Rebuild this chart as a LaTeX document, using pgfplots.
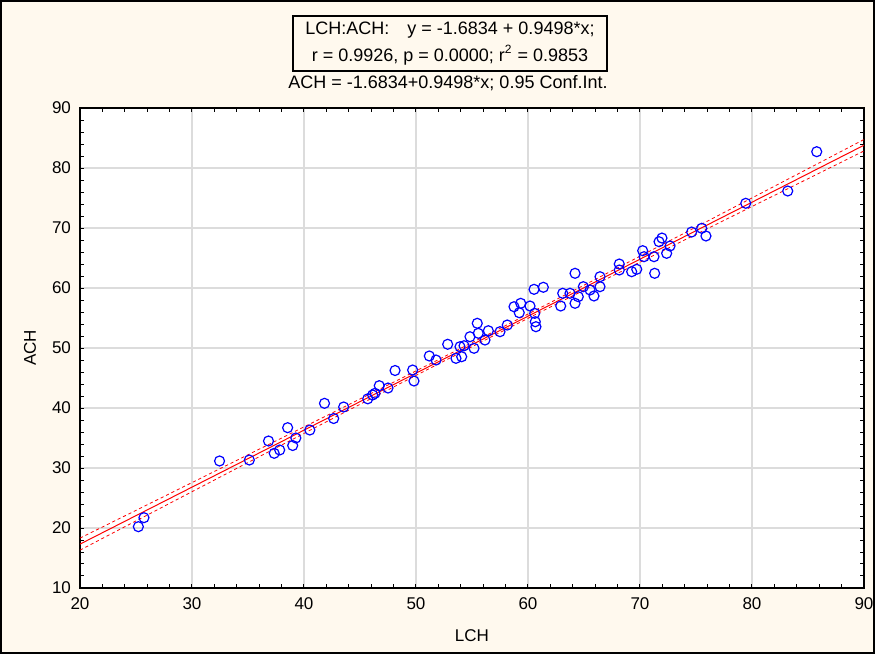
\documentclass[border=0pt]{standalone}
\usepackage{fontspec}
\setmainfont{Liberation Sans}
\usepackage{pgfplots}
\pgfplotsset{compat=1.18}
\definecolor{cream}{RGB}{255,249,238}
\definecolor{gridgray}{RGB}{220,220,220}
\definecolor{ptblue}{RGB}{0,0,255}
\definecolor{regred}{RGB}{255,0,0}
\begin{document}
\begin{tikzpicture}
\path[use as bounding box] (-40pt,-33pt) rectangle (397.5pt,294pt);
\draw[line width=1pt, fill=cream] (-39.3pt,-32.3pt) rectangle (396.8pt,293.3pt);
\begin{axis}[
  at={(0pt,0pt)}, anchor=south west,
  scale only axis, width=392pt, height=240pt,
  xmin=20, xmax=90, ymin=10, ymax=90,
  xtick={20,30,...,90}, ytick={10,20,...,90},
  minor x tick num=4, minor y tick num=4,
  tick align=inside, major tick length=2pt, minor tick length=2pt,
  tick style={black, line width=0.5pt},
  xmajorgrids, ymajorgrids,
  major grid style={gridgray, line width=0.8pt},
  axis line style={black, line width=0.6pt},
  axis background/.style={fill=white},
  /pgf/number format/assume math mode=true,
  tick label style={font=\fontsize{8.5}{10}\selectfont},
  xticklabel style={yshift=-1.5pt},
  yticklabel style={xshift=-1pt},
  label style={font=\fontsize{8.5}{10}\selectfont},
  xlabel={LCH}, ylabel={ACH},
  xlabel style={at={(axis description cs:0.5,0)}, anchor=center, yshift=-24pt},
  ylabel style={at={(axis description cs:0,0.5)}, anchor=center, yshift=25pt},
  clip=true,
]
% confidence band
\addplot[regred, line width=0.4pt, dash pattern=on 1.6pt off 1.4pt, smooth] coordinates {
(20,18.314) (25,22.941) (30,27.571) (35,32.206) (40,36.848) (45,41.503) (50,46.181) (56,51.845) (60,55.660) (65,60.467) (70,65.302) (75,70.154) (80,75.015) (85,79.881) (90,84.751)};
\addplot[regred, line width=0.4pt, dash pattern=on 1.6pt off 1.4pt, smooth] coordinates {
(20,16.310) (25,21.181) (30,26.049) (35,30.912) (40,35.768) (45,40.611) (50,45.431) (56,51.165) (60,54.948) (65,59.639) (70,64.302) (75,68.948) (80,73.585) (85,78.217) (90,82.845)};
% regression line
\addplot[regred, line width=0.5pt] coordinates {(20,17.312) (90,83.798)};
% data
\addplot[only marks, mark=o, mark size=2.5pt, mark options={ptblue, line width=0.6pt}] coordinates {
(25.21,20.22) (25.71,21.72) (32.46,31.17) (35.12,31.33) (36.83,34.50) (37.34,32.45)
(37.83,33.00) (38.54,36.72) (38.99,33.75) (39.27,35.00) (40.52,36.33) (41.83,40.78)
(42.65,38.25) (43.54,40.17) (45.69,41.53) (46.13,42.17) (46.34,42.45) (46.72,43.72)
(47.50,43.33) (48.13,46.25) (49.70,46.33) (49.82,44.50) (51.19,48.67) (51.79,48.00)
(52.83,50.62) (53.57,48.28) (53.93,50.22) (54.08,48.55) (54.29,50.38) (54.82,51.88)
(55.18,49.95) (55.47,54.12) (55.56,52.45) (56.16,51.33) (56.46,52.88) (57.50,52.72)
(58.15,53.83) (58.75,56.88) (59.35,57.45) (59.22,55.88) (60.18,57.00) (60.60,55.78)
(60.65,54.38) (60.71,53.55) (60.54,59.78) (61.37,60.12) (62.92,57.00) (63.10,59.12)
(63.75,59.12) (64.20,62.45) (64.20,57.45) (64.49,58.55) (64.94,60.22) (65.54,59.67)
(65.89,58.67) (66.43,61.88) (66.43,60.22) (68.15,64.00) (68.15,63.00) (69.26,62.72)
(69.71,63.12) (70.24,66.22) (70.36,65.22) (71.25,65.22) (71.31,62.45) (71.70,67.72)
(71.96,68.33) (72.38,65.78) (72.68,67.00) (74.61,69.33) (75.51,69.95) (75.89,68.67)
(79.44,74.12) (83.19,76.17) (85.78,82.72)};
\end{axis}
\node[draw=black, line width=0.7pt, fill=cream, align=center, minimum width=157pt, minimum height=27.5pt, inner sep=1pt,
  font=\fontsize{9}{13.5}\selectfont] at (185pt,272.25pt)
  {LCH:ACH:\quad y = -1.6834 + 0.9498*x;\\ r = 0.9926, p = 0.0000; r\textsuperscript{2} = 0.9853};
\node[font=\fontsize{9}{10}\selectfont, inner sep=0pt] at (184pt,252.5pt) {ACH = -1.6834+0.9498*x; 0.95 Conf.Int.};
\end{tikzpicture}
\end{document}
